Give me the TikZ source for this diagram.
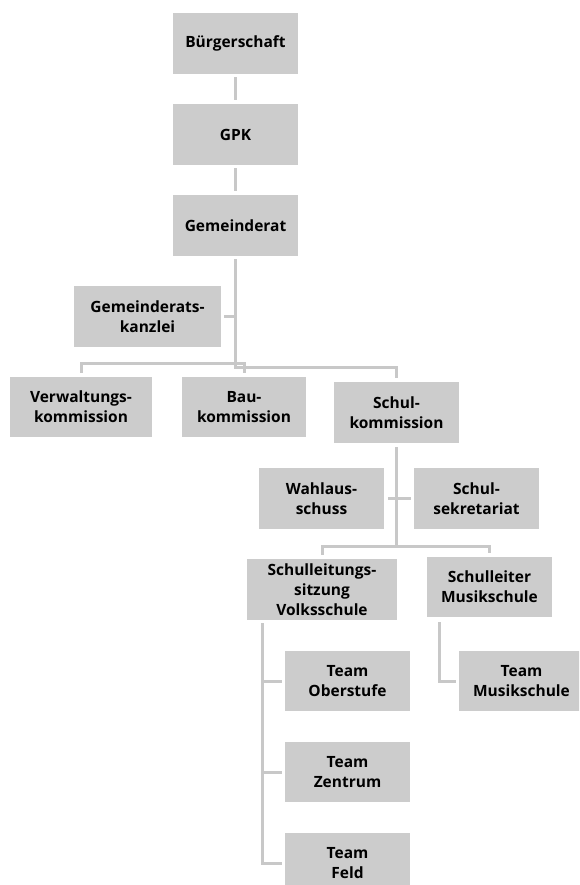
\documentclass[tikz,border=0pt]{standalone}
\usepackage{fontspec}
\setmainfont{Open Sans}
\definecolor{boxgray}{HTML}{CCCCCC}
\definecolor{linegray}{HTML}{C8C8C8}
\begin{document}
\begin{tikzpicture}[x=1pt,y=-1pt,
  box/.style={fill=boxgray, draw=none, inner sep=0pt, align=center,
    font=\fontsize{15.5}{20}\selectfont\bfseries, minimum height=61pt, minimum width=125pt},
  conn/.style={draw=linegray, line width=3pt}]
\useasboundingbox (0,0) rectangle (579,885);
\clip (0,0) rectangle (579,885);
% nodes
\node[box] (buerger) at (235.5,43.5) {Bürgerschaft};
\node[box] (gpk) at (235.5,134.5) {GPK};
\node[box] (gem) at (235.5,225.5) {Gemeinderat};
\node[box, minimum width=147pt] (kanzlei) at (147.5,316.5) {Gemeinderats-\\kanzlei};
\node[box, minimum width=142pt, minimum height=60pt] (verw) at (81,407) {Verwaltungs-\\kommission};
\node[box, minimum width=124pt, minimum height=60pt] (bau) at (244,407) {Bau-\\kommission};
\node[box] (schulk) at (396.5,412.5) {Schul-\\kommission};
\node[box] (wahl) at (321.5,498.5) {Wahlaus-\\schuss};
\node[box] (sekr) at (476.5,498.5) {Schul-\\sekretariat};
\node[box, minimum width=150pt] (sls) at (322,589.5) {Schulleitungs-\\sitzung\\Volksschule};
\node[box, minimum height=60pt] (slm) at (489.5,587) {Schulleiter\\Musikschule};
\node[box, minimum height=60pt] (tob) at (347.5,681) {Team\\Oberstufe};
\node[box, minimum height=60pt] (tze) at (347.5,772) {Team\\Zentrum};
\node[box, minimum height=60pt] (tfe) at (347.5,863) {Team\\Feld};
\node[box, minimum height=60pt] (tmu) at (521.5,681) {Team\\Musikschule};
% connectors
\coordinate (lb) at (0,363);
\coordinate (rb) at (0,367);
\coordinate (sb) at (0,546);
\draw[conn] ([yshift=-3pt]buerger.south) -- ([yshift=4pt]gpk.north);
\draw[conn] ([yshift=-3pt]gpk.south) -- ([yshift=4pt]gem.north);
\draw[conn] ([yshift=-3pt]gem.south) -- (gem.south |- rb) -- (schulk.north |- rb) -- ([yshift=4pt]schulk.north);
\draw[conn] ([xshift=3pt]kanzlei.east) -- (gem.south |- kanzlei.east);
\draw[conn] ([yshift=4pt]verw.north) -- (verw.north |- lb) -- (bau.north |- lb) -- ([yshift=4pt]bau.north);
\draw[conn] ([yshift=-4pt]schulk.south) -- (schulk.south |- sb);
\draw[conn] ([xshift=4pt]wahl.east) -- ([xshift=-3pt]sekr.west);
\draw[conn] ([yshift=4pt]sls.north) -- (sls.north |- sb) -- (slm.north |- sb) -- ([yshift=4pt]slm.north);
\draw[conn] ([xshift=-60pt,yshift=-3pt]sls.south) |- ([xshift=-3pt]tfe.west);
\draw[conn] ([xshift=-23pt]tob.west) -- ([xshift=-3pt]tob.west);
\draw[conn] ([xshift=-23pt]tze.west) -- ([xshift=-3pt]tze.west);
\draw[conn] ([xshift=-50.5pt,yshift=-5pt]slm.south) |- ([xshift=-3pt]tmu.west);
\end{tikzpicture}
\end{document}
